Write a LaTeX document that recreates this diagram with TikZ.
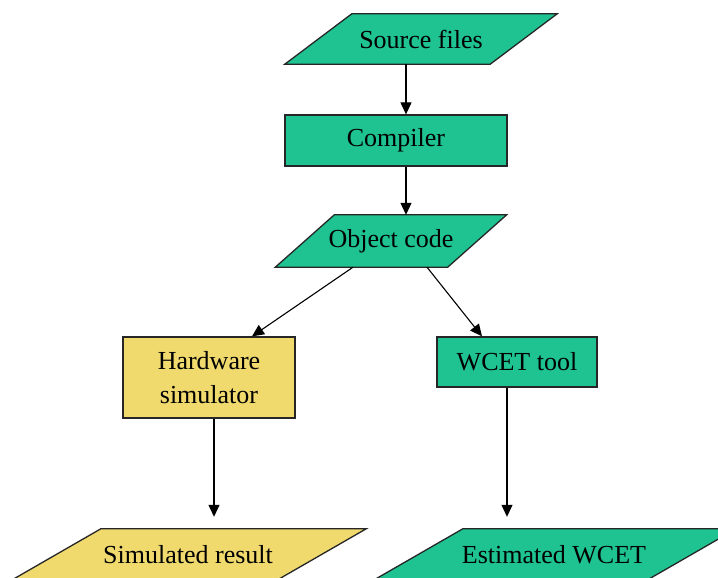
\documentclass[tikz,border=0pt]{standalone}
\usepackage{fontspec}
\setmainfont{Liberation Serif}
\usetikzlibrary{arrows.meta,backgrounds}

\definecolor{toolgreen}{RGB}{30,195,145}
\definecolor{simyellow}{RGB}{240,218,110}

\tikzset{
  procbox/.style={draw=black!85, line width=1.3pt, inner sep=0pt, align=center},
  iobox/.style={inner sep=0pt, align=center},
  flow/.style={line width=1.1pt, -{Triangle[width=11pt,length=12pt]}},
}

\begin{document}
\begin{tikzpicture}[x=1pt, y=-1pt, font=\fontsize{26}{34}\selectfont]
    \useasboundingbox (0,0) rectangle (718,578);

    % Define the steps of the tool chain
    \node[iobox, minimum width=205pt, minimum height=50pt] (src) at (421,39) {Source files};
    \node[procbox, fill=toolgreen, minimum width=222pt, minimum height=51pt] (comp) at (396,140.5) {Compiler};
    \node[iobox, minimum width=172pt, minimum height=52pt] (obj) at (391,241) {Object code};
    \node[procbox, fill=simyellow, minimum width=172pt, minimum height=81pt] (hw) at (209,377.5) {Hardware\\simulator};
    \node[procbox, fill=toolgreen, minimum width=160pt, minimum height=50pt] (wcet) at (517,362) {WCET tool};
    \node[iobox, minimum width=265pt, minimum height=52pt] (sim) at (188,555) {Simulated result};
    \node[iobox, minimum width=273pt, minimum height=52pt] (est) at (554,555) {Estimated WCET};

    % Slanted data boxes, drawn behind their labels
    \begin{scope}[on background layer]
        \clip (0,0) rectangle (718,578);
        \foreach \n/\s/\c in {src/67/toolgreen, obj/59/toolgreen, sim/91/simyellow, est/91/toolgreen}
            \draw[draw=black!85, line width=1.3pt, fill=\c]
                ([xshift=\s/2]\n.north west) -- ([xshift=\s/2]\n.north east)
                -- ([xshift=-\s/2]\n.south east) -- ([xshift=-\s/2]\n.south west) -- cycle;
    \end{scope}

    % Connect the steps
    \draw[flow] ([xshift=-15pt]src.south) -- ([xshift=10pt]comp.north);
    \draw[flow] ([xshift=10pt]comp.south) -- ([xshift=15pt]obj.north);
    \draw[flow] ([xshift=-38pt]obj.south) -- ([xshift=43pt]hw.north);
    \draw[flow] ([xshift=36pt]obj.south) -- ([xshift=-35pt]wcet.north);
    \draw[flow, shorten >=12pt] ([xshift=5pt]hw.south) -- ([xshift=26pt]sim.north);
    \draw[flow, shorten >=12pt] ([xshift=-10pt]wcet.south) -- ([xshift=-47pt]est.north);
\end{tikzpicture}
\end{document}
